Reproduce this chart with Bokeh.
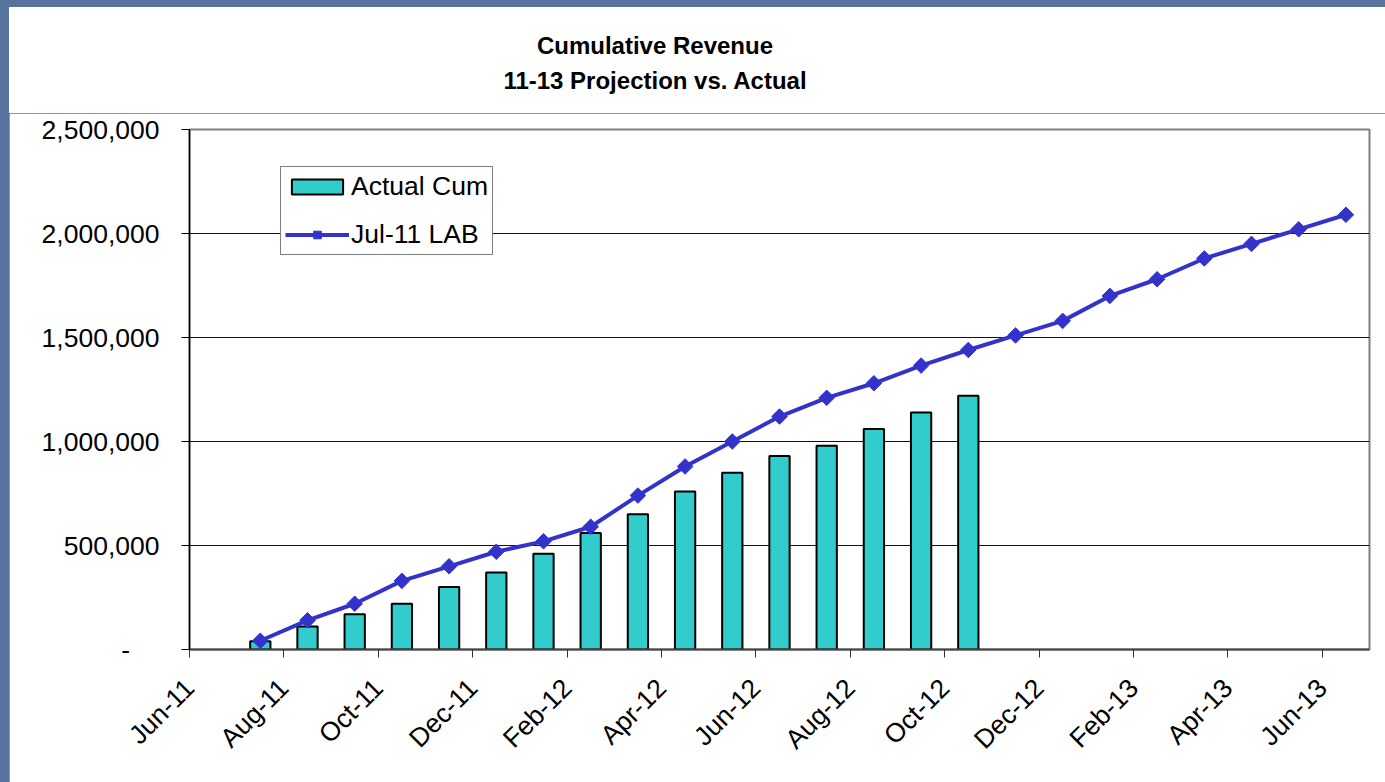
import numpy as np
from bokeh.plotting import figure
from bokeh.layouts import column
from bokeh.models import (ColumnDataSource, FixedTicker, Legend, LegendItem, Range1d, Div)
from bokeh.embed import file_html
from bokeh.resources import INLINE

# ---- data ----
months = ["Jun-11", "Jul-11", "Aug-11", "Sep-11", "Oct-11", "Nov-11", "Dec-11",
          "Jan-12", "Feb-12", "Mar-12", "Apr-12", "May-12", "Jun-12", "Jul-12",
          "Aug-12", "Sep-12", "Oct-12", "Nov-12", "Dec-12", "Jan-13", "Feb-13",
          "Mar-13", "Apr-13", "May-13", "Jun-13"]
actual_months = months[1:17]
actual_cum = [40000, 110000, 170000, 220000, 300000, 370000, 460000, 560000,
              650000, 760000, 850000, 930000, 980000, 1060000, 1140000, 1220000]
proj_months = months[1:25]
proj_lab = [42000, 140000, 220000, 330000, 400000, 470000, 520000, 590000,
            740000, 880000, 1000000, 1120000, 1210000, 1280000, 1365000, 1440000,
            1510000, 1580000, 1700000, 1780000, 1880000, 1950000, 2020000, 2090000]
tick_labels = months[0::2]
y_ticks = [0, 500000, 1000000, 1500000, 2000000, 2500000]
y_tick_labels = ["-\u2007\u2007", "500,000", "1,000,000", "1,500,000", "2,000,000", "2,500,000"]
title_lines = ["Cumulative Revenue", "11-13 Projection vs. Actual"]

FONT = "Liberation Sans"

# position each month in the middle of its interval on a monthly date axis
act_x = [months.index(m) + 0.5 for m in actual_months]
proj_x = [months.index(m) + 0.5 for m in proj_months]
tick_pos = [months.index(m) for m in tick_labels]

src_act = ColumnDataSource(dict(x=act_x, y=actual_cum))
src_proj = ColumnDataSource(dict(x=proj_x, y=proj_lab))

p = figure(width=1376, height=669, output_backend="svg", toolbar_location=None,
           x_range=Range1d(0, len(months)), y_range=Range1d(0, 2500000),
           min_border_left=180, min_border_top=16, min_border_right=16,
           min_border_bottom=133)

p.background_fill_color = "white"
p.border_fill_color = "white"
p.outline_line_color = "#808080"
p.outline_line_width = 2

bars = p.vbar(x="x", top="y", width=0.43, bottom=0, source=src_act,
              fill_color="#33CCCC", line_color="black", line_width=2)
line = p.line(x="x", y="y", source=src_proj, line_color="#3333CC", line_width=4)
pts = p.scatter(x="x", y="y", source=src_proj, marker="square", angle=np.pi / 4,
                size=11, fill_color="#3333CC", line_color="#3333CC")

# axes
p.xaxis.ticker = FixedTicker(ticks=tick_pos)
p.xaxis.major_label_overrides = {pos: lab for pos, lab in zip(tick_pos, tick_labels)}
p.xaxis.major_label_orientation = np.pi / 4
p.xaxis.minor_tick_line_color = None
p.xaxis.major_tick_in = 0
p.xaxis.major_tick_out = 8
p.xaxis.major_tick_line_color = "#333333"
p.xaxis.axis_line_color = "#444444"
p.xaxis.axis_line_width = 2
p.xaxis.major_label_standoff = 26
p.xaxis.major_label_text_font = FONT
p.xaxis.major_label_text_font_size = "26.5px"
p.xaxis.major_label_text_color = "black"

p.yaxis.ticker = FixedTicker(ticks=y_ticks)
p.yaxis.major_label_overrides = {t: l for t, l in zip(y_ticks, y_tick_labels)}
p.yaxis.minor_tick_line_color = None
p.yaxis.major_tick_in = 0
p.yaxis.major_tick_out = 8
p.yaxis.major_tick_line_color = "black"
p.yaxis.axis_line_color = "black"
p.yaxis.axis_line_width = 1.5
p.yaxis.major_label_standoff = 22
p.yaxis.major_label_text_font = FONT
p.yaxis.major_label_text_font_size = "26.5px"
p.yaxis.major_label_text_color = "black"

p.xgrid.grid_line_color = None
p.ygrid.ticker = FixedTicker(ticks=y_ticks)
p.ygrid.grid_line_color = "#111111"
p.ygrid.grid_line_width = 1

legend = Legend(items=[LegendItem(label="Actual Cum", renderers=[bars]),
                       LegendItem(label="Jul-11 LAB", renderers=[line, pts])],
                location=(91, 394), orientation="vertical")
legend.label_text_font = FONT
legend.label_text_font_size = "26.5px"
legend.label_text_color = "black"
legend.glyph_width = 64
legend.glyph_height = 19
legend.label_standoff = 2
legend.spacing = 17
legend.padding = 4
legend.margin = 0
legend.border_line_color = "black"
legend.border_line_width = 1
legend.background_fill_color = "white"
legend.background_fill_alpha = 1
p.add_layout(legend)

# two-line title above the chart, centred as in the reference
title_html = ("<div style=\"width:1292px;text-align:center;font-family:'Liberation Sans';"
              "font-weight:bold;font-size:24px;line-height:35px;padding-top:21px;"
              "color:black;\">" + "<br>".join(title_lines) + "</div>")
title_div = Div(text=title_html, width=1376, height=106,
                styles={"background-color": "white", "margin": "0px"})

layout = column(title_div, p, spacing=0,
                styles={"background-color": "#56749d", "padding": "7px 0px 0px 9px"})

open("out.html", "w").write(file_html(layout, INLINE))
